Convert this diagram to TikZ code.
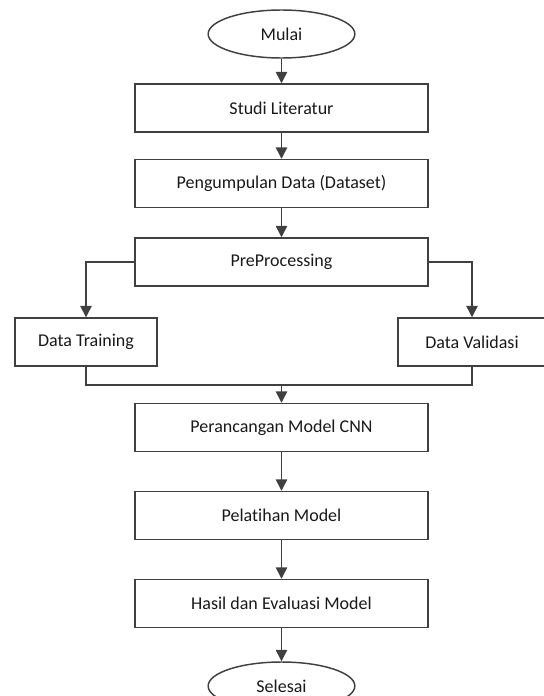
\documentclass[tikz,border=0pt]{standalone}
\usepackage{fontspec}
\setmainfont[Ligatures=NoCommon]{Carlito}
\usetikzlibrary{arrows.meta,shapes.geometric}

\tikzset{
  proses/.style={draw, rectangle, minimum width=219.75pt, minimum height=36pt, text=black!90},
  databox/.style={draw, rectangle, minimum width=106.5pt, minimum height=36pt, text=black!90},
  terminal/.style={draw, ellipse, minimum width=110pt, minimum height=36pt, inner sep=0pt, text=black!90},
}

\begin{document}
\begin{tikzpicture}[x=0.75pt, y=-0.75pt, >={Triangle[width=8.5pt,length=8.5pt]}, line width=1.1pt, color=black!75, font=\fontsize{13.5}{16}\selectfont]
  \useasboundingbox (0,0) rectangle (543,696);

  % alur utama
  \node[terminal] (mulai) at (281.5,34) {Mulai};
  \node[proses] (studi) at (281.5,108) {Studi Literatur};
  \node[proses] (kumpul) at (281.5,183.5) {Pengumpulan Data (Dataset)};
  \node[proses] (prepro) at (281.5,262) {PreProcessing};

  % pembagian data
  \node[databox] (latihdata) at (86,342) {Data Training};
  \node[databox, minimum width=111pt] (validasi) at (472,342) {Data Validasi};
  \coordinate (gabung) at (281.5,385);

  \node[proses] (cnn) at (281.5,427.5) {Perancangan Model CNN};
  \node[proses] (latih) at (281.5,515.5) {Pelatihan Model};
  \node[proses] (hasil) at (281.5,603.5) {Hasil dan Evaluasi Model};
  \node[terminal] (selesai) at (281.5,686) {Selesai};

  \draw[->] (mulai) -- (studi);
  \draw[->] (studi) -- (kumpul);
  \draw[->] (kumpul) -- (prepro);
  \draw[->] (prepro.west) -| (latihdata.north);
  \draw[->] (prepro.east) -| (validasi.north);
  \draw (latihdata.south) -- (latihdata.south |- gabung) -| (validasi.south);
  \draw[->] (gabung) -- (cnn);
  \draw[->] (cnn) -- (latih);
  \draw[->] (latih) -- (hasil);
  \draw[->] (hasil) -- (selesai);
\end{tikzpicture}
\end{document}
